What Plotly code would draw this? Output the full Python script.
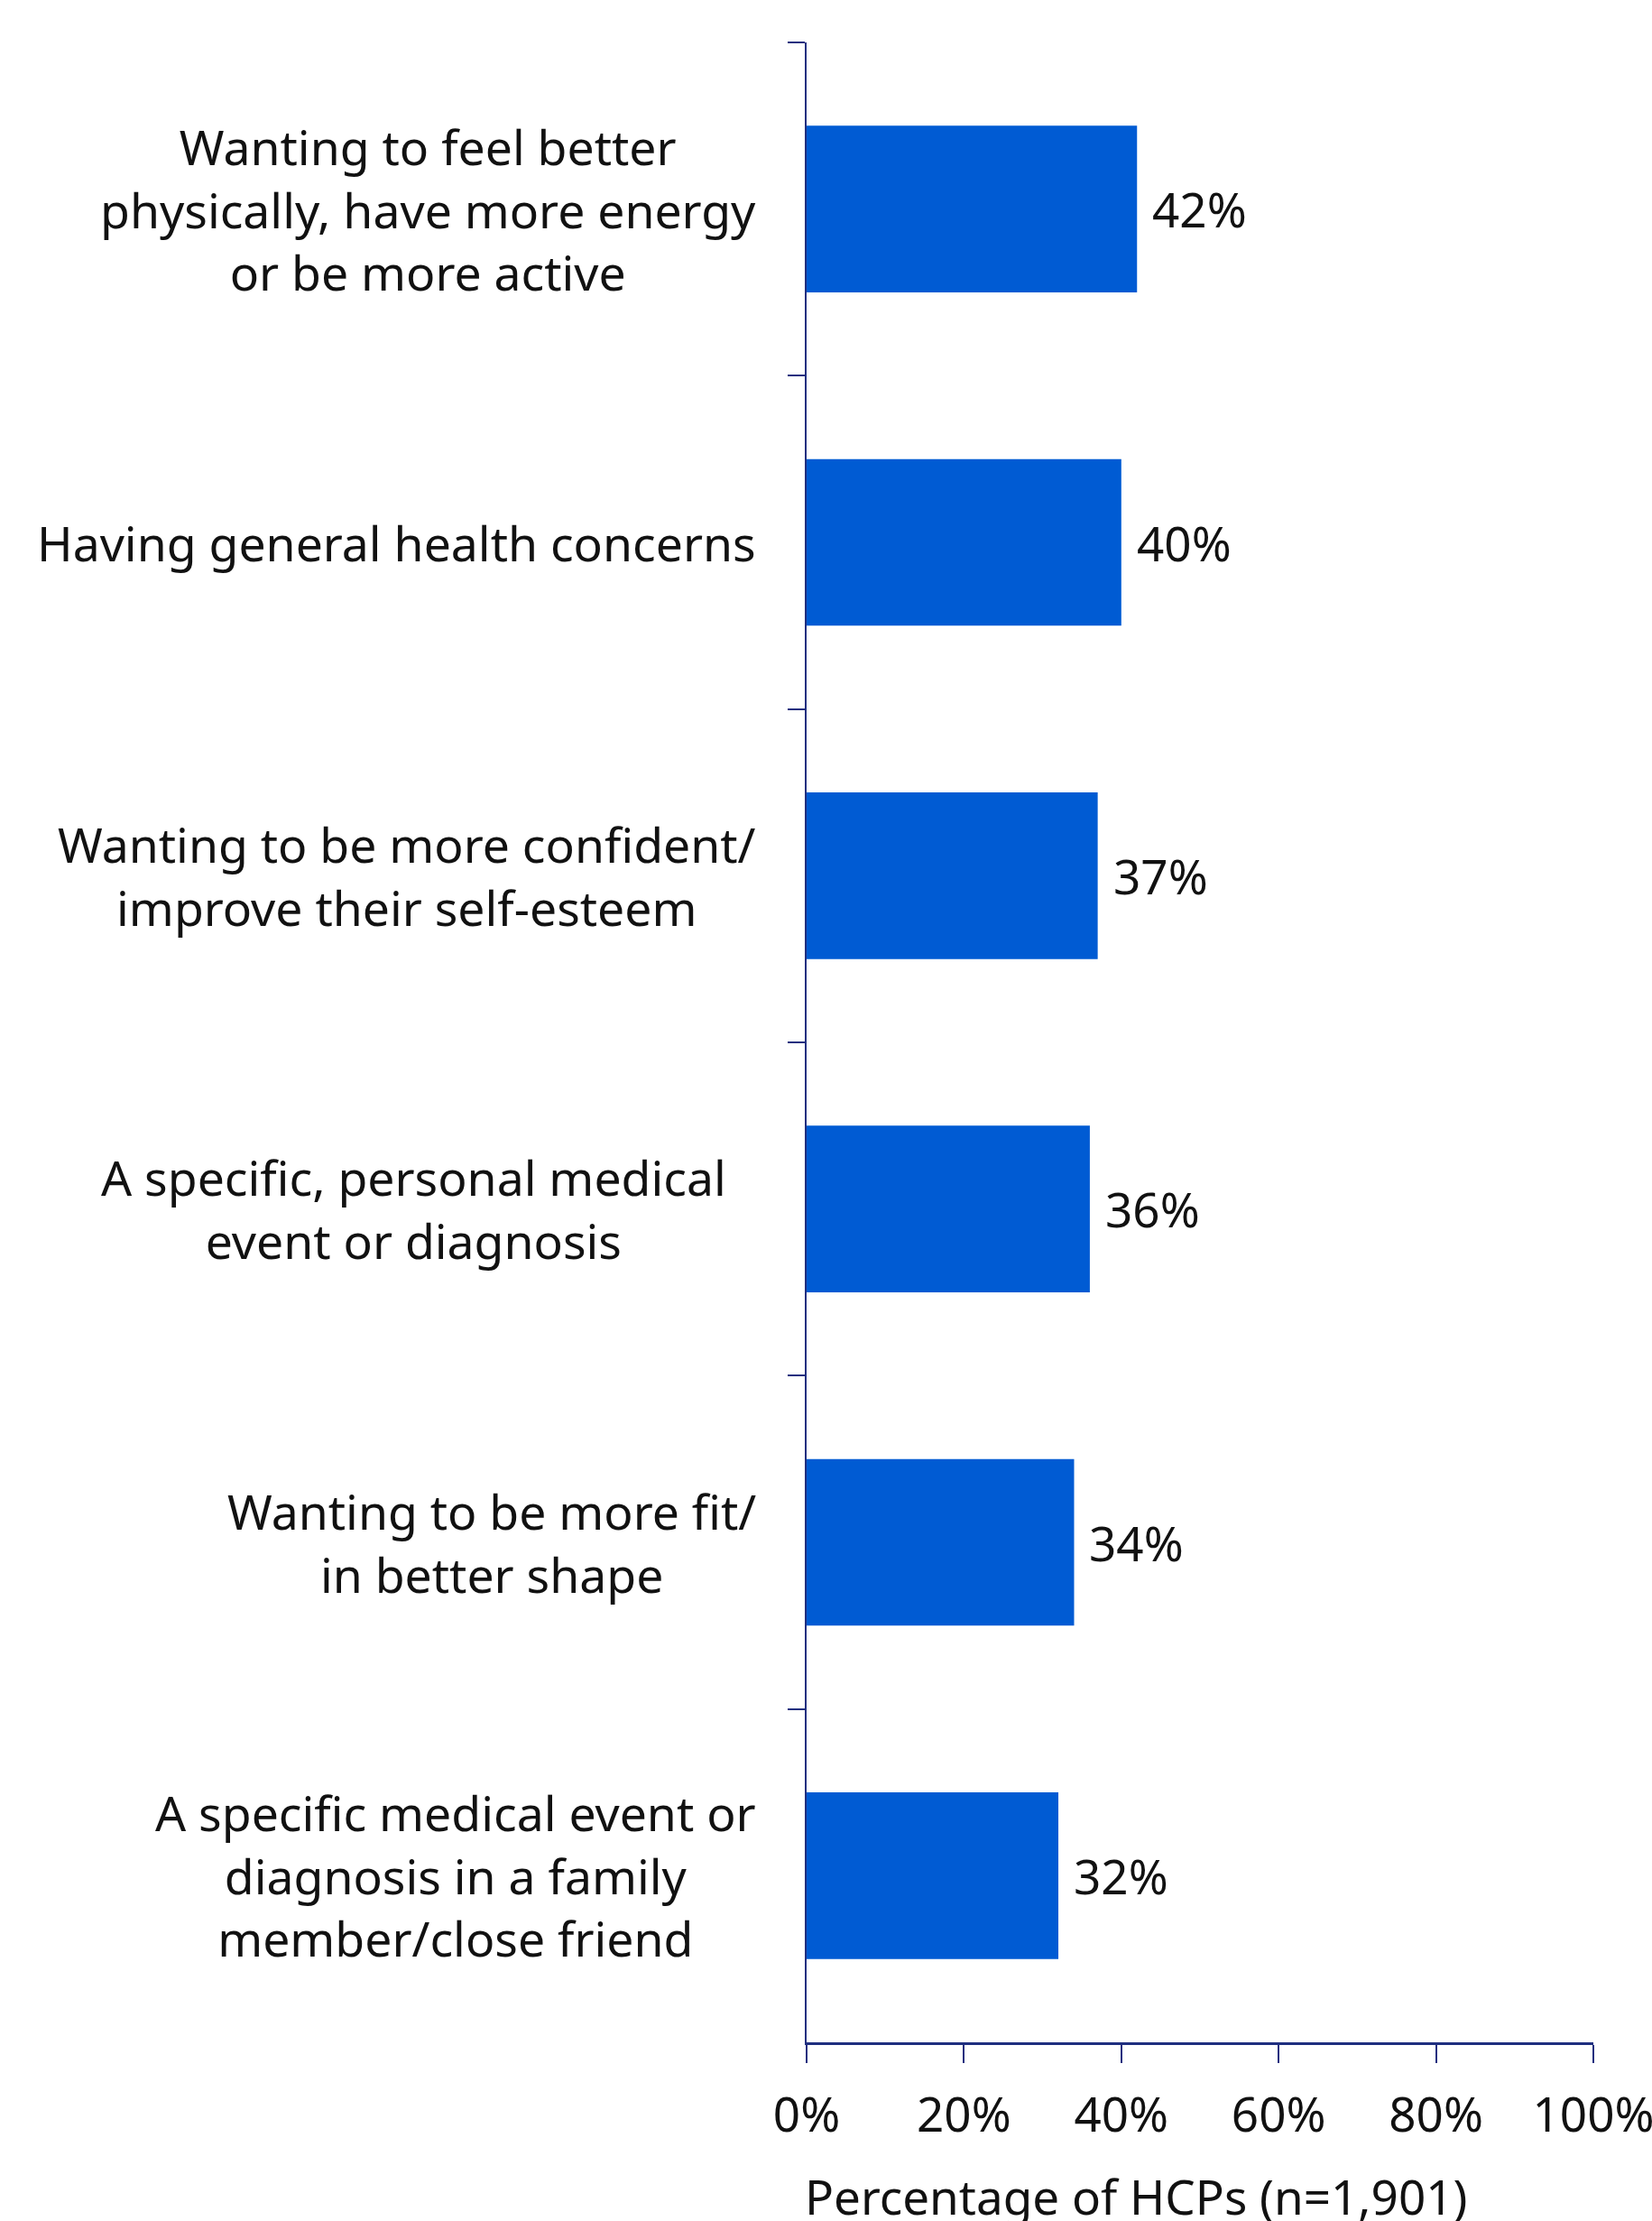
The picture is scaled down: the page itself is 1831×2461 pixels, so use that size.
import plotly.graph_objects as go

# Reasons HCPs report for their own weight-loss motivation
categories = [
    "Wanting to feel better<br>physically, have more energy<br>or be more active",
    "Having general health concerns",
    "Wanting to be more confident/<br>improve their self-esteem",
    "A specific, personal medical<br>event or diagnosis",
    "Wanting to be more fit/<br>in better shape",
    "A specific medical event or<br>diagnosis in a family<br>member/close friend",
]
percentages = [42, 40, 37, 36, 34, 32]
x_ticks = [0, 20, 40, 60, 80, 100]
x_tick_labels = ["0%", "20%", "40%", "60%", "80%", "100%"]
x_title = "Percentage of HCPs (n=1,901)"

FONT = "Noto Sans"
FS = 53.5
BAR = "#005BD3"
AXIS = "#1F2F7F"
INK = "#111111"

fig = go.Figure(
    go.Bar(
        x=percentages,
        y=categories,
        orientation="h",
        marker=dict(color=BAR, line=dict(width=0)),
        width=0.5,
        hoverinfo="skip",
    )
)

annotations = []
# value labels just right of each bar
for c, v in zip(categories, percentages):
    annotations.append(dict(
        x=v, y=c, xref="x", yref="y", text=f"{v}%",
        xanchor="left", yanchor="middle", xshift=15, showarrow=False,
        font=dict(family=FONT, size=53, color=INK),
    ))
# category labels, centred text blocks to the left of the axis
label_shift = [0, 0, 0, -33, 0, 0]
for c, s in zip(categories, label_shift):
    annotations.append(dict(
        x=0, y=c, xref="paper", yref="y", text=c, align="center",
        xanchor="right", yanchor="middle", xshift=-54 + s, showarrow=False,
        font=dict(family=FONT, size=FS, color=INK),
    ))
# axis title, left-aligned with the value axis origin
annotations.append(dict(
    x=0, y=0, xref="paper", yref="paper", text=x_title,
    xanchor="left", yanchor="top", yshift=-132, xshift=-4, showarrow=False,
    font=dict(family=FONT, size=53, color=INK),
))

fig.update_layout(
    width=1831, height=2461,
    margin=dict(l=894, r=65, t=47, b=198, autoexpand=False),
    paper_bgcolor="white", plot_bgcolor="white",
    showlegend=False,
    annotations=annotations,
    xaxis=dict(
        range=[0, 100], tickvals=x_ticks, ticktext=x_tick_labels,
        ticks="outside", ticklen=20, tickwidth=2, tickcolor=AXIS,
        showline=True, linecolor=AXIS, linewidth=3,
        showgrid=False, zeroline=False, automargin=False,
        tickfont=dict(family=FONT, size=53, color=INK),
        ticklabelstandoff=12, ticklabeloverflow="allow",
    ),
    yaxis=dict(
        type="category", autorange="reversed",
        showticklabels=False, automargin=False,
        tickson="boundaries", ticks="outside", ticklen=19, tickwidth=2,
        tickcolor=AXIS, showline=True, linecolor=AXIS, linewidth=2,
        showgrid=False, zeroline=False,
    ),
)

fig.write_html("out.html")
